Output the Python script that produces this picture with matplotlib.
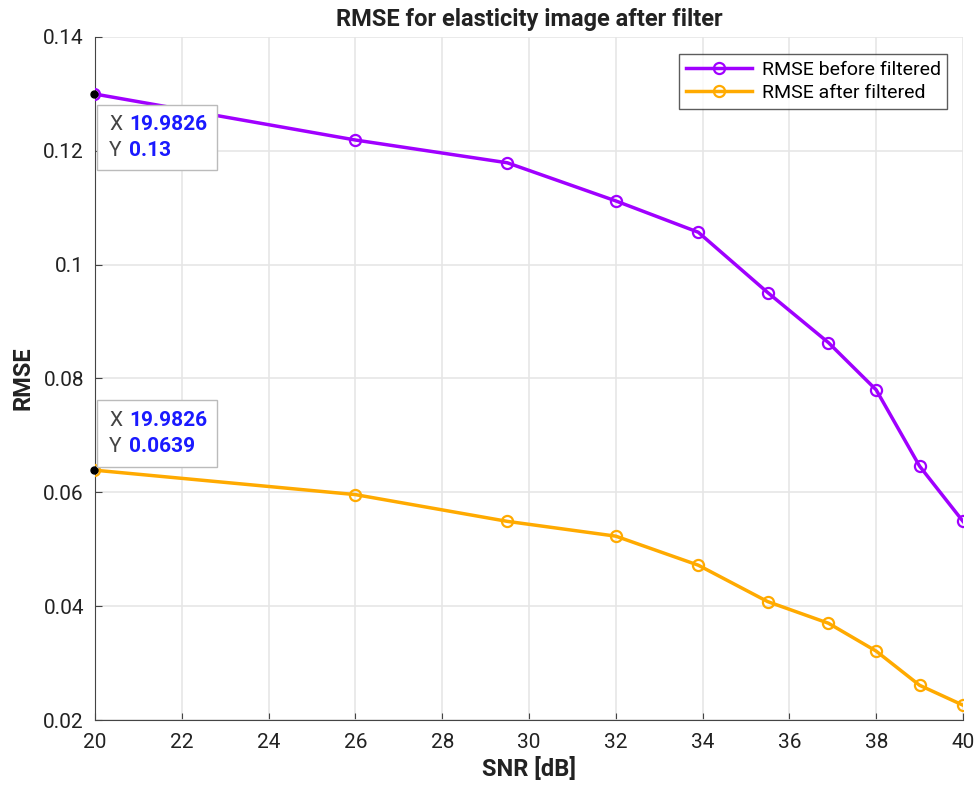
import matplotlib
matplotlib.use("Agg")
import matplotlib.pyplot as plt
from matplotlib.patches import Rectangle

plt.rcParams['font.family'] = ['Roboto', 'DejaVu Sans']

# data
snr = [19.9826, 26, 29.5, 32, 33.9, 35.5, 36.9, 38, 39, 40]
rmse_before = [0.13, 0.1219, 0.1179, 0.1112, 0.1057, 0.0951, 0.0863, 0.0780, 0.0646, 0.0549]
rmse_after = [0.0639, 0.0596, 0.0549, 0.0523, 0.0472, 0.0408, 0.0370, 0.0321, 0.0261, 0.0226]

purple = '#A000FF'
orange = '#FFAA00'

fig = plt.figure(figsize=(9.79, 7.93), dpi=100)
ax = fig.add_axes([95 / 979, 1 - 720 / 793, 868 / 979, 683 / 793])

ax.plot(snr, rmse_before, color=purple, lw=2.5, marker='o', ms=8,
        mfc='none', mew=1.6, label='RMSE before filtered', zorder=3)
ax.plot(snr, rmse_after, color=orange, lw=2.5, marker='o', ms=8,
        mfc='none', mew=1.6, label='RMSE after filtered', zorder=3)

ax.set_xlim(20, 40)
ax.set_ylim(0.02, 0.14)
ax.set_xticks(range(20, 41, 2))
ax.set_yticks([0.02, 0.04, 0.06, 0.08, 0.1, 0.12, 0.14])
ax.set_yticklabels(['0.02', '0.04', '0.06', '0.08', '0.1', '0.12', '0.14'])
ax.tick_params(labelsize=15, direction='in', length=5, color='#444444',
               labelcolor='#222222', top=False, right=False)
ax.tick_params(axis='x', pad=9)
ax.tick_params(axis='y', pad=8)
ax.grid(True, color='#e6e6e6', lw=1.2)
ax.set_axisbelow(True)
for side in ['top', 'right']:
    ax.spines[side].set_visible(False)
for side in ['left', 'bottom']:
    ax.spines[side].set_color('#444444')

ax.set_xlabel('SNR [dB]', fontsize=17, fontweight='bold', labelpad=4, color='#222222')
ax.set_ylabel('RMSE', fontsize=17, fontweight='bold', labelpad=6, color='#222222')
ax.set_title('RMSE for elasticity image after filter', fontsize=17,
             fontweight='bold', pad=8, color='#222222')

leg = ax.legend(loc='upper right', bbox_to_anchor=(0.982, 0.975), fontsize=14,
                frameon=True, fancybox=False, edgecolor='#333333',
                borderpad=0.35, labelspacing=0.25, handlelength=3.4,
                handletextpad=0.5, borderaxespad=0)
leg.get_frame().set_linewidth(1.0)

# data tips: (box bottom, box top) in data units
tips = [(snr[0], rmse_before[0], 0.1166, 0.1280),
        (snr[0], rmse_after[0], 0.0645, 0.0762)]
for xv, yv, yb, yt in tips:
    ax.plot([xv], [yv], 'o', color='black', ms=5, zorder=5, clip_on=False)
    ax.add_patch(Rectangle((20.05, yb), 2.76, yt - yb, fc='white', ec='#bbbbbb',
                           lw=1.0, zorder=6, clip_on=False))
    h = yt - yb
    for k, (lab, val) in enumerate([('X', '%g' % xv), ('Y', '%g' % yv)]):
        yy = yt - h * (0.3 + 0.4 * k)
        ax.text(20.33, yy, lab, fontsize=15, color='#444444', va='center', zorder=7)
        ax.text(20.78, yy, val, fontsize=15, color='#1a1aff',
                fontweight='bold', va='center', zorder=7)

plt.savefig('out.png', dpi=100)
